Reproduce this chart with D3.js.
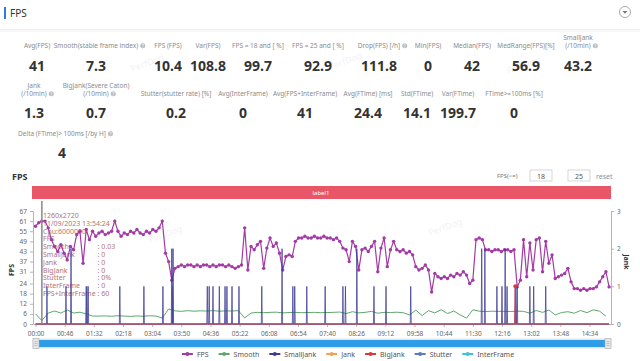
<!DOCTYPE html>
<html lang="en">
<head>
<meta charset="UTF-8">
<title>FPS</title>
<script src="https://d3js.org/d3.v7.min.js"></script>
<style>
body { margin:0; background:#fff; font-family:"Noto Sans","Open Sans",sans-serif; }
svg { display:block; }
</style>
</head>
<body>
<svg id="chart" width="640" height="361"></svg>
<script>
// ---- stats ----
var statNames1 = ["Avg(FPS)", "Smooth(stable frame index)", "FPS (FPS)", "Var(FPS)", "FPS = 18 and [ %]", "FPS = 25 and [ %]", "Drop(FPS) [/h]", "Min(FPS)", "Median(FPS)", "MedRange(FPS)[%]", "SmallJank|(/10min)"];
var statValues1 = ["41", "7.3", "10.4", "108.8", "99.7", "92.9", "111.8", "0", "42", "56.9", "43.2"];
var statHelp1 = [0, 1, 0, 0, 0, 0, 1, 0, 0, 0, 1];
var statNames2 = ["Jank|(/10min)", "BigJank(Severe Caton)|(/10min)", "Stutter(stutter rate) [%]", "Avg(InterFrame)", "Avg(FPS+InterFrame)", "Avg(FTime) [ms]", "Std(FTime)", "Var(FTime)", "FTime>=100ms [%]"];
var statValues2 = ["1.3", "0.7", "0.2", "0", "41", "24.4", "14.1", "199.7", "0"];
var statHelp2 = [1, 1, 0, 0, 0, 0, 0, 0, 0];
var statNames3 = ["Delta (FTime)> 100ms [/by H]"];
var statValues3 = ["4"];
var statHelp3 = [1];

// ---- chart data ----
var timeLabels = ["00:00","00:46","01:32","02:18","03:04","03:50","04:36","05:22","06:08","06:54","07:40","08:26","09:12","09:58","10:44","11:30","12:16","13:02","13:48","14:34"];
var fpsTicks = [0, 6, 12, 18, 24, 31, 37, 43, 49, 55, 61, 67];
var jankTicks = [0, 1, 2, 3];

// FPS sampled every 5 s
var fpsStep = 5;
var fpsValues = [58,60,61,61,57,50,46,43,47,42,38,46,44,53,55,36,56,50,55,52,
  54,55,53,54,55,61,55,52,54,53,55,54,56,54,53,55,54,56,55,57,
  61,42,37,26,33,34,35,34,35,35,34,35,34,35,35,34,35,34,35,35,
  34,35,34,33,34,35,57,32,46,44,47,49,33,45,51,46,48,42,32,40,
  41,40,49,51,51,52,51,51,52,51,51,52,51,51,50,51,49,45,44,37,
  49,46,32,44,45,43,46,49,31,45,51,34,44,49,44,43,44,42,43,41,
  34,32,33,35,32,19,30,28,27,28,27,29,28,30,29,31,29,24,26,50,
  51,50,44,44,43,44,44,43,44,44,43,44,22,26,50,28,48,32,50,51,
  31,49,36,41,27,28,29,30,33,25,21,21,20,21,20,21,21,22,25,28,
  31,22];

// Smooth sampled every 10 s
var smoothStep = 10;
var smoothValues = [6,2,6.5,7.7,6.5,8.3,6.5,7,6,4.7,4.7,4.8,4.6,4.9,4.7,4.5,4.8,4.6,4.9,4.7,
  3.5,8.9,7.8,7.5,7.9,7.6,7.8,7.7,7.9,7.6,7.8,7.7,7.9,3.6,6.5,6.9,6.7,6.9,7.0,6.6,
  6.8,6.9,6.7,6.8,6.9,6.7,6.8,6.9,7.1,6.2,7.3,6.6,6.9,7.5,6.4,6.9,6.8,7.0,6.7,5.4,
  8.2,5.0,7.9,6.6,8.5,6.2,7.7,5.4,3.5,8.4,7.6,7.4,7.6,7.5,7.5,7.4,7.6,7.5,6.4,8.0,
  6.9,8.3,5.4,6.8,7.3,6.4,8.0,6.7,8.4,7.6,4.6];

// jank events (time in s, value)
var smallJankTimes = [18,48,56,80,83,133,171,201,215,217,271,274,280,290,299,302,310,321,357,389,406,409,428,457,485,489,507,534,553,592,704,709,728,736,741,744,757,760,780,786,805];
var smallJankValues = [1,1,2,1,1,1,1,1,2,2,1,1,1,1,1,1,1,1,1,2,1,1,1,1,1,1,2,1,1,1,2,2,1,1,2,1,1,1,1,1,1];
var stutterTimes = [81, 216, 758];
var stutterValues = [1, 1, 1];
var bigJankTimes = [757];
var bigJankValues = [1];
var endTime = 905;

var legendNames = ["FPS", "Smooth", "SmallJank", "Jank", "BigJank", "Stutter", "InterFrame"];
var legendColors = ["#a33aa6", "#5fa86a", "#3d3b93", "#f2a34f", "#d8393c", "#5a7dbf", "#40c2d6"];

var tipNames = ["FPS", "Smooth", "SmallJank", "Jank", "BigJank", "Stutter", "InterFrame", "FPS+InterFrame"];
var tipValues = ["", ": 0.03", ": 0", ": 0", ": 0", ": 0%", ": 0", ": 60"];
var tipHead = ["1260x2720", "11/09/2023 13:54:24", "Cpu:6000000"];
var tipTime = 10;

var svg = d3.select("#chart");

// ---- header ----
svg.append("rect").attr("x", 4).attr("y", 7).attr("width", 2).attr("height", 12).attr("fill", "#2d7ee0");
svg.append("text").attr("x", 10).attr("y", 17).attr("font-size", 10).attr("fill", "#333").text("FPS");
svg.append("circle").attr("cx", 625).attr("cy", 12).attr("r", 5.5).attr("fill", "#fff").attr("stroke", "#aaa");
svg.append("path").attr("d", "M622.5,11 L627.5,11 L625,13.8 Z").attr("fill", "#777");
svg.append("rect").attr("x", 0).attr("y", 29).attr("width", 640).attr("height", 1).attr("fill", "#eee");
svg.append("rect").attr("x", 0).attr("y", 30).attr("width", 640).attr("height", 2).attr("fill", "#f7f7f7");

// ---- stat rows ----
function helpIcon(cx, cy) {
  svg.append("circle").attr("cx", cx).attr("cy", cy).attr("r", 2.5).attr("fill", "#bbb");
  svg.append("text").attr("x", cx).attr("y", cy + 1.7).attr("text-anchor", "middle").attr("font-size", 4.5).attr("fill", "#fff").text("?");
}
function statRow(names, values, help, cols, labelY, valueY) {
  names.forEach(function (n, i) {
    var parts = n.split("|");
    var last = null;
    parts.forEach(function (p, k) {
      last = svg.append("text").attr("x", cols[i]).attr("y", labelY - (parts.length - 1 - k) * 8.5)
        .attr("text-anchor", "middle").attr("font-size", 6.5).attr("fill", "#8c8c8c").text(p);
    });
    if (help[i]) {
      var w = last.node().getComputedTextLength();
      helpIcon(cols[i] + w / 2 + 4.5, labelY - 2.2);
    }
    svg.append("text").attr("x", cols[i]).attr("y", valueY).attr("text-anchor", "middle")
      .attr("font-size", 14).attr("font-weight", "bold").attr("fill", "#333").text(values[i]);
  });
}
statRow(statNames1, statValues1, statHelp1, [37, 96, 168, 208, 258, 318, 379, 428, 472, 526, 578], 48, 71);
statRow(statNames2, statValues2, statHelp2, [34, 96, 176, 243, 305, 368, 417, 458, 514], 96, 118);
statRow(statNames3, statValues3, statHelp3, [62], 136, 158);

// watermarks
[[132, 72], [330, 70], [508, 74], [150, 243], [430, 236]].forEach(function (p) {
  svg.append("text").attr("x", p[0]).attr("y", p[1]).attr("font-size", 9).attr("fill", "#000").attr("opacity", 0.05)
    .attr("transform", "rotate(-20," + p[0] + "," + p[1] + ")").text("PerfDog");
});

// ---- chart header ----
svg.append("text").attr("x", 12).attr("y", 180).attr("font-size", 9).attr("font-weight", "bold").attr("fill", "#333").text("FPS");
svg.append("text").attr("x", 497).attr("y", 178).attr("font-size", 6).attr("fill", "#777").text("FPS(<=)");
[[530, "18"], [568, "25"]].forEach(function (b) {
  svg.append("rect").attr("x", b[0]).attr("y", 170).attr("width", 22).attr("height", 11).attr("fill", "#fff").attr("stroke", "#ccc").attr("stroke-width", 0.8);
  svg.append("text").attr("x", b[0] + 11).attr("y", 178.5).attr("text-anchor", "middle").attr("font-size", 7).attr("fill", "#555").text(b[1]);
});
svg.append("text").attr("x", 596).attr("y", 178.5).attr("font-size", 7).attr("fill", "#8a8fa8").text("reset");

svg.append("rect").attr("x", 32).attr("y", 186).attr("width", 579).attr("height", 13).attr("fill", "#e95668");
svg.append("text").attr("x", 321).attr("y", 195).attr("text-anchor", "middle").attr("font-size", 6).attr("fill", "#fff").text("label1");

// ---- scales ----
var x = d3.scaleLinear().domain([-4, 908]).range([33, 611]);
var yL = d3.scaleLinear().domain([0, 67]).range([324, 211]);
var yR = d3.scaleLinear().domain([0, 3]).range([324, 211]);

function toSec(s) { var p = s.split(":"); return +p[0] * 60 + +p[1]; }

// axes
var gx = svg.append("g").attr("transform", "translate(0,324)")
  .call(d3.axisBottom(x).tickValues(timeLabels.map(toSec)).tickFormat(function (d, i) { return timeLabels[i]; }).tickSize(3).tickSizeOuter(0));
var gl = svg.append("g").attr("transform", "translate(33,0)")
  .call(d3.axisLeft(yL).tickValues(fpsTicks).tickFormat(d3.format("d")).tickSize(3).tickSizeOuter(0));
var gr = svg.append("g").attr("transform", "translate(611,0)")
  .call(d3.axisRight(yR).tickValues(jankTicks).tickFormat(d3.format("d")).tickSize(3).tickSizeOuter(0));
[gx, gl, gr].forEach(function (g) {
  g.selectAll("path").attr("stroke", "#b5b5b5");
  g.selectAll("line").attr("stroke", "#b5b5b5");
  g.selectAll("text").attr("fill", "#666").attr("font-size", 6.5).attr("font-family", "Noto Sans, sans-serif");
});
gx.selectAll("text").attr("dy", "0.9em");

svg.append("text").attr("transform", "translate(14,270) rotate(-90)").attr("text-anchor", "middle")
  .attr("font-size", 7).attr("font-weight", "bold").attr("fill", "#333").text("FPS");
svg.append("text").attr("transform", "translate(624,262) rotate(90)").attr("text-anchor", "middle")
  .attr("font-size", 7).attr("font-weight", "bold").attr("fill", "#333").text("Jank");

// tooltip text (behind series)
var tip = svg.append("g").attr("fill", "#a85a5a").attr("font-size", 7).attr("opacity", 0.85);
tipHead.forEach(function (s, i) {
  tip.append("text").attr("x", 43).attr("y", 218 + i * 7.8).text(s);
});
var tipW = 0;
var tipRows = tipNames.map(function (s, i) {
  var t = tip.append("text").attr("x", 43).attr("y", 218 + (i + 3) * 7.8).text(s);
  tipW = Math.max(tipW, t.node().getComputedTextLength());
  return t;
});
tipNames.forEach(function (s, i) {
  tip.append("text").attr("x", 43 + tipW + 2).attr("y", 218 + (i + 3) * 7.8).text(tipValues[i]);
});

// ---- series ----
function spikes(times, values) {
  var pts = [[0, 0]];
  times.forEach(function (t, i) { pts.push([t - 0.8, 0], [t, values[i]], [t + 0.8, 0]); });
  pts.push([endTime, 0]);
  return pts;
}

var lineR = d3.line().x(function (d) { return x(d[0]); }).y(function (d) { return yR(d[1]); });
var lineL = d3.line().x(function (d) { return x(d[0]); }).y(function (d) { return yL(d[1]); });

var smoothData = smoothValues.map(function (v, i) { return [i * smoothStep, v]; });
svg.append("path").attr("d", lineL(smoothData)).attr("fill", "none").attr("stroke", legendColors[1]).attr("stroke-width", 1);

var fpsData = fpsValues.map(function (v, i) { return [i * fpsStep, v]; });
svg.append("path").attr("d", lineL(fpsData)).attr("fill", "none").attr("stroke", legendColors[0]).attr("stroke-width", 1.2);
svg.append("g").selectAll("circle").data(fpsData).join("circle")
  .attr("cx", function (d) { return x(d[0]); }).attr("cy", function (d) { return yL(d[1]); })
  .attr("r", 1.7).attr("fill", legendColors[0]);

svg.append("path").attr("d", lineR(spikes(stutterTimes, stutterValues))).attr("fill", "none")
  .attr("stroke", legendColors[5]).attr("stroke-width", 1.2).attr("opacity", 0.8);
svg.append("path").attr("d", lineR(spikes(smallJankTimes, smallJankValues))).attr("fill", "none")
  .attr("stroke", legendColors[2]).attr("stroke-width", 0.9).attr("opacity", 0.85);
svg.append("path").attr("d", lineR(spikes(bigJankTimes, bigJankValues))).attr("fill", "none")
  .attr("stroke", legendColors[4]).attr("stroke-width", 1);
bigJankTimes.forEach(function (t, i) {
  svg.append("circle").attr("cx", x(t)).attr("cy", yR(bigJankValues[i])).attr("r", 2).attr("fill", legendColors[4]);
});

// axis pointer
svg.append("line").attr("x1", x(tipTime)).attr("x2", x(tipTime)).attr("y1", 201).attr("y2", 324)
  .attr("stroke", "#888").attr("stroke-width", 1.5);

// ---- data zoom slider ----
svg.append("rect").attr("x", 33).attr("y", 339).attr("width", 578).attr("height", 9).attr("fill", "#d7ecfb").attr("stroke", "#cfd8e3").attr("stroke-width", 0.6);
svg.append("rect").attr("x", 36).attr("y", 340).attr("width", 572).attr("height", 7).attr("fill", "#2f9ce8");
[33, 605].forEach(function (hx) {
  svg.append("rect").attr("x", hx).attr("y", 338.5).attr("width", 6).attr("height", 10).attr("fill", "#e8e8e8").attr("stroke", "#aaa").attr("stroke-width", 0.6);
  [341.5, 343.5, 345.5].forEach(function (ly) {
    svg.append("line").attr("x1", hx + 1.5).attr("x2", hx + 4.5).attr("y1", ly).attr("y2", ly).attr("stroke", "#999").attr("stroke-width", 0.5);
  });
});

// ---- legend ----
var lg = svg.append("g");
var lx = 0;
legendNames.forEach(function (n, i) {
  var it = lg.append("g").attr("transform", "translate(" + lx + ",0)");
  it.append("line").attr("x1", 0).attr("x2", 11).attr("y1", 0).attr("y2", 0).attr("stroke", legendColors[i]).attr("stroke-width", 2);
  it.append("circle").attr("cx", 5.5).attr("cy", 0).attr("r", 2).attr("fill", legendColors[i]);
  var t = it.append("text").attr("x", 15).attr("y", 2.5).attr("font-size", 7).attr("fill", "#555").text(n);
  lx += 15 + t.node().getComputedTextLength() + 10;
});
lg.attr("transform", "translate(" + (348 - (lx - 10) / 2) + ",354)");
</script>
</body>
</html>
